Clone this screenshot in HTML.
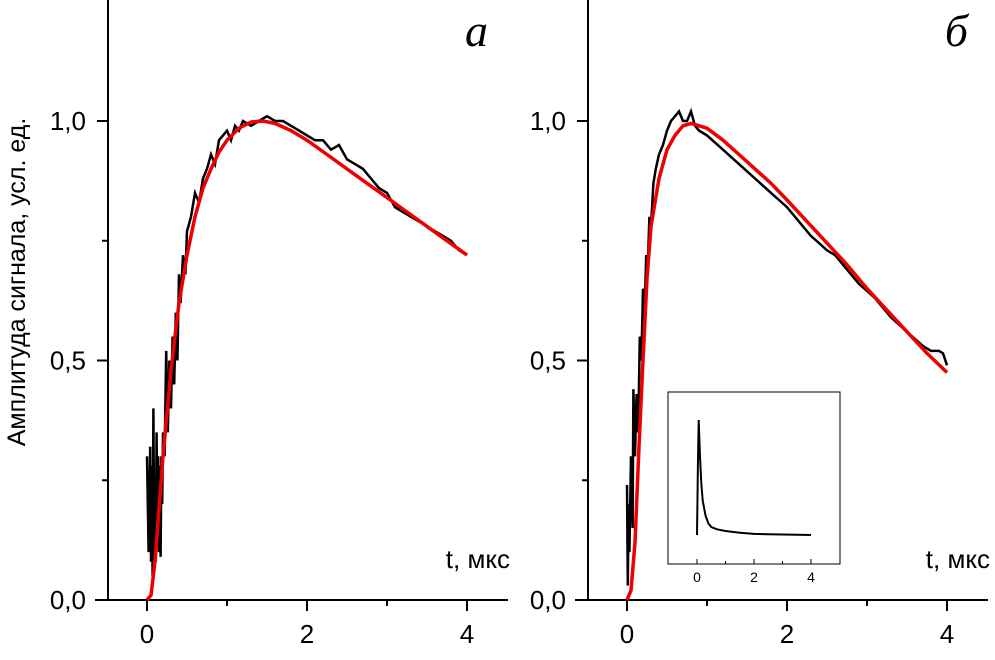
<!DOCTYPE html>
<html><head><meta charset="utf-8"><style>
body{margin:0;background:#fff}
svg{display:block;font-family:"Liberation Sans","DejaVu Sans",sans-serif}
</style></head><body>
<svg id="c" width="995" height="660"></svg>
<script>
const ticksX=[0,2,4];
const ticksY=[0,0.5,1.0];
const tickYLabels=["0,0","0,5","1,0"];
const aDataT=[0,0.02,0.04,0.05,0.06,0.07,0.08,0.09,0.1,0.11,0.12,0.13,0.14,0.15,0.16,0.17,0.18,0.19,0.2,0.22,0.24,0.26,0.28,0.3,0.32,0.34,0.36,0.38,0.4,0.42,0.45,0.48,0.5,0.55,0.6,0.65,0.7,0.75,0.8,0.85,0.9,0.95,1.0,1.05,1.1,1.15,1.2,1.3,1.4,1.5,1.6,1.7,1.8,1.9,2.0,2.1,2.2,2.3,2.4,2.5,2.6,2.7,2.8,2.9,3.0,3.1,3.2,3.3,3.4,3.5,3.6,3.7,3.8,3.9,4.0];
const aDataV=[0.3,0.1,0.32,0.08,0.28,0.05,0.4,0.1,0.22,0.08,0.35,0.12,0.3,0.1,0.28,0.09,0.3,0.2,0.35,0.3,0.52,0.35,0.5,0.4,0.55,0.45,0.6,0.5,0.68,0.62,0.72,0.68,0.77,0.8,0.85,0.83,0.88,0.9,0.93,0.91,0.96,0.97,0.98,0.96,0.99,0.98,1.0,0.99,1.0,1.01,1.0,1.0,0.99,0.98,0.97,0.96,0.96,0.94,0.95,0.92,0.91,0.9,0.88,0.86,0.85,0.82,0.81,0.8,0.79,0.78,0.77,0.76,0.75,0.73,0.72];
const aFitT=[0,0.05,0.1,0.2,0.3,0.4,0.5,0.6,0.7,0.8,0.9,1.0,1.15,1.3,1.45,1.6,1.8,2.0,2.25,2.5,2.75,3.0,3.25,3.5,3.75,4.0];
const aFitV=[0,0.01,0.08,0.3,0.48,0.62,0.72,0.8,0.86,0.9,0.935,0.96,0.985,0.998,1.0,0.995,0.98,0.96,0.93,0.9,0.87,0.84,0.81,0.78,0.75,0.72];
const bDataT=[0,0.01,0.02,0.03,0.05,0.07,0.08,0.1,0.12,0.14,0.16,0.18,0.2,0.22,0.24,0.26,0.28,0.3,0.33,0.36,0.4,0.45,0.5,0.55,0.6,0.65,0.7,0.75,0.8,0.85,0.9,1.0,1.1,1.2,1.3,1.4,1.5,1.6,1.7,1.8,1.9,2.0,2.1,2.2,2.3,2.4,2.5,2.6,2.7,2.8,2.9,3.0,3.1,3.2,3.3,3.4,3.5,3.6,3.7,3.8,3.9,3.95,4.0];
const bDataV=[0.24,0.03,0.2,0.1,0.3,0.15,0.44,0.3,0.43,0.35,0.55,0.5,0.65,0.6,0.72,0.7,0.8,0.78,0.87,0.9,0.93,0.95,0.98,1.0,1.01,1.02,1.0,1.0,1.02,0.99,0.98,0.97,0.955,0.94,0.925,0.91,0.895,0.88,0.865,0.85,0.835,0.82,0.8,0.78,0.76,0.745,0.73,0.72,0.7,0.68,0.66,0.645,0.63,0.61,0.59,0.575,0.56,0.545,0.53,0.52,0.52,0.515,0.49];
const bFitT=[0,0.05,0.1,0.15,0.2,0.25,0.3,0.4,0.5,0.6,0.7,0.8,1.0,1.2,1.4,1.6,1.8,2.0,2.25,2.5,2.75,3.0,3.25,3.5,3.75,4.0];
const bFitV=[0,0.02,0.12,0.32,0.5,0.67,0.78,0.88,0.94,0.97,0.99,0.995,0.985,0.96,0.93,0.9,0.87,0.835,0.79,0.745,0.7,0.65,0.605,0.56,0.515,0.475];
const insetT=[0,0.03,0.06,0.1,0.15,0.2,0.3,0.4,0.5,0.7,1.0,1.5,2.0,3.0,4.0];
const insetV=[0.0,0.6,1.0,0.7,0.45,0.3,0.17,0.1,0.07,0.05,0.035,0.02,0.01,0.004,0.0];

const NS="http://www.w3.org/2000/svg";
const svg=document.getElementById('c');
function mk(tag,attrs,parent){const e=document.createElementNS(NS,tag);for(const k in attrs)e.setAttribute(k,attrs[k]);(parent||svg).appendChild(e);return e;}

function panel(ox,name,dT,dV,fT,fV,letter){
  const g=mk('g',{});
  
  
  const X=t=>ox+147+t*80, Y=v=>600-v*479;
  const yAxis=mk('line',{x1:ox+108,y1:0,x2:ox+108,y2:600,stroke:'#000','stroke-width':2},g);
  
  
  const xAxis=mk('line',{x1:ox+95,y1:600,x2:ox+508,y2:600,stroke:'#000','stroke-width':2},g);
  
  
  for(let t=0;t<=4;t++){mk('line',{x1:X(t),y1:600,x2:X(t),y2:t%2?606:611,stroke:'#000','stroke-width':2},g);}
  ticksX.forEach(t=>{const tx=mk('text',{x:X(t),y:643,'font-size':26,'text-anchor':'middle'},g);tx.textContent=t;
    
    });
  for(let i=1;i<=4;i++){const v=i*0.25;mk('line',{x1:ox+108,y1:Y(v),x2:ox+(i%2?102:97),y2:Y(v),stroke:'#000','stroke-width':2},g);}
  ticksY.forEach((v,i)=>{const tx=mk('text',{x:ox+86,y:Y(v)+9,'font-size':26,'text-anchor':'end'},g);tx.textContent=tickYLabels[i];
    
    });
  const xl=mk('text',{x:ox+510,y:568,'font-size':26,'text-anchor':'end'},g);xl.textContent='t, мкс';
  
  
  const lt=mk('text',{x:ox+488,y:46,'font-size':46,'font-style':'italic','text-anchor':'end','font-family':'"Liberation Serif",serif'},g);lt.textContent=letter;
  
  
  const d1=mk('path',{d:dT.map((t,i)=>(i?'L':'M')+X(t).toFixed(1)+','+Y(dV[i]).toFixed(1)).join(''),fill:'none',stroke:'#000','stroke-width':2.5},g);
  
  
  const f1=mk('path',{d:fT.map((t,i)=>(i?'L':'M')+X(t).toFixed(1)+','+Y(fV[i]).toFixed(1)).join(''),fill:'none',stroke:'#e00','stroke-width':3.5,'stroke-linejoin':'round'},g);
  
  
}
panel(0,'panel-a',aDataT,aDataV,aFitT,aFitV,'a');
panel(480,'panel-b',bDataT,bDataV,bFitT,bFitV,'б');

const yt=mk('text',{transform:'translate(25,282) rotate(-90)','font-size':25,'text-anchor':'middle'});
yt.textContent='Амплитуда сигнала, усл. ед.';



const ig=mk('g',{});


mk('rect',{x:668,y:392,width:172,height:172,fill:'#fff',stroke:'#000','stroke-width':1},ig);
const IX=t=>697+t*28.5, IY=v=>535-v*115;
for(let t=0;t<=4;t++)mk('line',{x1:IX(t),y1:564,x2:IX(t),y2:t%2?561:559,stroke:'#000','stroke-width':1},ig);
[0,2,4].forEach(t=>{const tx=mk('text',{x:IX(t),y:582,'font-size':14,'text-anchor':'middle'},ig);tx.textContent=t;
  
  });
const ip=mk('path',{d:insetT.map((t,i)=>(i?'L':'M')+IX(t).toFixed(1)+','+IY(insetV[i]).toFixed(1)).join(''),fill:'none',stroke:'#000','stroke-width':2},ig);


</script>
</body></html>
